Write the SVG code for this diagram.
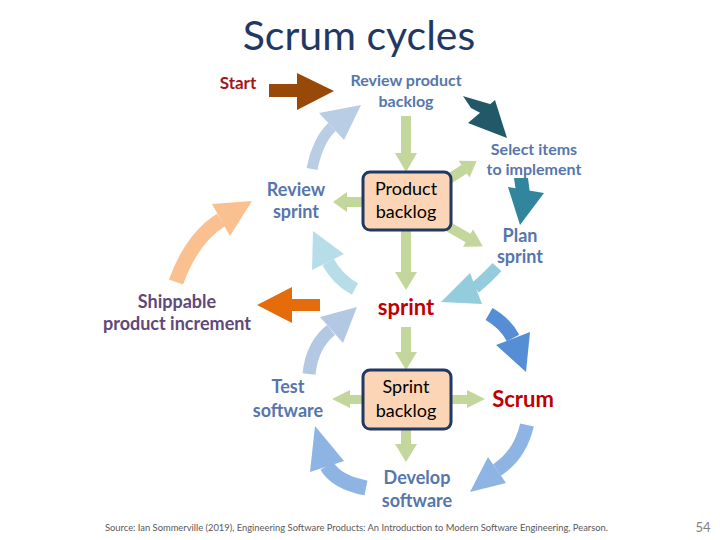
<svg xmlns="http://www.w3.org/2000/svg" width="720" height="540" viewBox="0 0 720 540">
<style>
text{font-family:Lato,"Open Sans","Liberation Sans",sans-serif;text-anchor:middle}
.t{fill:#5676AC;font-weight:bold;font-size:18px}
.ts{font-size:16px}
.red{fill:#C00000;font-weight:bold;font-size:22px}
.box rect{fill:#FBD5B5;stroke:#1F3864;stroke-width:3}
.box text{fill:#000;font-size:18px}
.g{fill:#C3D69B}
.arc{fill:none;stroke-linecap:butt}
</style>
<rect width="720" height="540" fill="#fff"/>
<text x="359" y="50" style="font-size:41px;fill:#1F3864">Scrum cycles</text>

<g id="connectors">
  <!-- brown start arrow -->
  <polygon fill="#984807" points="269,84 297,84 297,73 334,91 297,110 297,97 269,97"/>
  <!-- dark teal -->
  <polygon fill="#215968" points="463,96 471,108 486,116 490,104 466,97"/>
  <polygon fill="#215968" points="468,123 495,100 507,138"/>
  <!-- teal -->
  <polygon fill="#31859C" points="514,178 528,178 530,194 516,192"/>
  <polygon fill="#31859C" points="508,187 544,193 520,225"/>
  <!-- Plan -> sprint -->
  <path class="arc" stroke="#93CDDD" stroke-width="12" d="M497,267 Q488,277 475,288"/>
  <polygon fill="#93CDDD" points="470,273 482,304 441,302"/>
  <!-- sprint -> Scrum -->
  <path class="arc" stroke="#558ED5" stroke-width="14" d="M489,314 Q505,323 513,338"/>
  <polygon fill="#558ED5" points="496,345 530,332 526,372"/>
  <!-- Scrum -> Develop -->
  <path class="arc" stroke="#8EB4E3" stroke-width="14" d="M527,425 Q520,455 497,470"/>
  <polygon fill="#8EB4E3" points="488,457 506,483 470,492"/>
  <!-- Develop -> Test -->
  <path class="arc" stroke="#8EB4E3" stroke-width="15" d="M366,488 Q336,482 327,466"/>
  <polygon fill="#8EB4E3" points="310,472 344,461 315,426"/>
  <!-- Test -> sprint -->
  <path class="arc" stroke="#B3C8E3" stroke-width="13" d="M309,374 Q312,345 331,330"/>
  <polygon fill="#B3C8E3" points="320,317 343,343 357,307"/>
  <!-- sprint -> Review sprint -->
  <path class="arc" stroke="#B7DEE8" stroke-width="13" d="M355,289 Q338,280 328,262"/>
  <polygon fill="#B7DEE8" points="312,270 344,254 313,231"/>
  <!-- Shippable orange -->
  <polygon fill="#E46C0A" points="320,299 292,299 292,287 257,305 292,323 292,311 320,311"/>
  <!-- peach -->
  <path class="arc" stroke="#FAC090" stroke-width="15" d="M176,282 Q192,238 221,220"/>
  <polygon fill="#FAC090" points="212,204 230,236 252,201"/>
  <!-- review sprint -> review product backlog -->
  <path class="arc" stroke="#B9CDE5" stroke-width="11" d="M312,169 Q318,140 332,127"/>
  <polygon fill="#B9CDE5" points="319,113 344,140 361,105"/>
  <!-- green arrows -->
  <polygon class="g" points="401,116 411,116 411,153 417,153 406,172 395,153 401,153"/>
  <polygon class="g" points="363,197 347,197 347,192 333,202 347,212 347,207 363,207"/>
  <polygon class="g" transform="translate(449,179) rotate(-33)" points="0,-5 18,-5 18,-10 33,0 18,10 18,5 0,5"/>
  <polygon class="g" transform="translate(449,227) rotate(30)" points="0,-5 22,-5 22,-10 39,0 22,10 22,5 0,5"/>
  <polygon class="g" points="401,231 411,231 411,272 417,272 406,290 395,272 401,272"/>
  <polygon class="g" points="401,327 411,327 411,352 417,352 406,370 395,352 401,352"/>
  <polygon class="g" points="363,395 350,395 350,390 332,399 350,408 350,404 363,404"/>
  <polygon class="g" points="451,395 467,395 467,390 485,399 467,408 467,404 451,404"/>
  <polygon class="g" points="401,430 411,430 411,444 417,444 406,462 395,444 401,444"/>
</g>

<g id="start"><text x="238" y="89" style="fill:#A0161E;font-weight:bold;font-size:17px">Start</text></g>
<g id="review-product-backlog"><text class="t ts" x="406" y="86">Review product</text><text class="t ts" x="406" y="107">backlog</text></g>
<g id="select-items"><text class="t ts" x="534" y="155">Select items</text><text class="t ts" x="534" y="175">to implement</text></g>
<g id="plan-sprint"><text class="t" x="520" y="242">Plan</text><text class="t" x="520" y="263">sprint</text></g>
<g id="review-sprint"><text class="t" x="296" y="196">Review</text><text class="t" x="296" y="218">sprint</text></g>
<g id="shippable"><text class="t" x="177" y="308" style="fill:#5F497A">Shippable</text><text class="t" x="177" y="330" style="fill:#5F497A">product increment</text></g>
<g id="sprint"><text class="red" x="406" y="315">sprint</text></g>
<g id="test-software"><text class="t" x="288" y="393">Test</text><text class="t" x="288" y="417">software</text></g>
<g id="develop-software"><text class="t" x="417" y="484">Develop</text><text class="t" x="417" y="507">software</text></g>
<g id="scrum"><text class="red" x="523" y="407">Scrum</text></g>
<g id="product-backlog" class="box"><rect x="363" y="172" width="88" height="58" rx="7"/><text x="406" y="195">Product</text><text x="406" y="218">backlog</text></g>
<g id="sprint-backlog" class="box"><rect x="363" y="370" width="88" height="59" rx="7"/><text x="406" y="393">Sprint</text><text x="406" y="417">backlog</text></g>

<text x="105" y="531" textLength="503" lengthAdjust="spacingAndGlyphs" style="text-anchor:start;font-size:9px;fill:#595959">Source: Ian Sommerville (2019), Engineering Software Products: An Introduction to Modern Software Engineering, Pearson.</text>
<text x="703" y="532" style="font-size:13px;fill:#7F7F7F">54</text>
</svg>
